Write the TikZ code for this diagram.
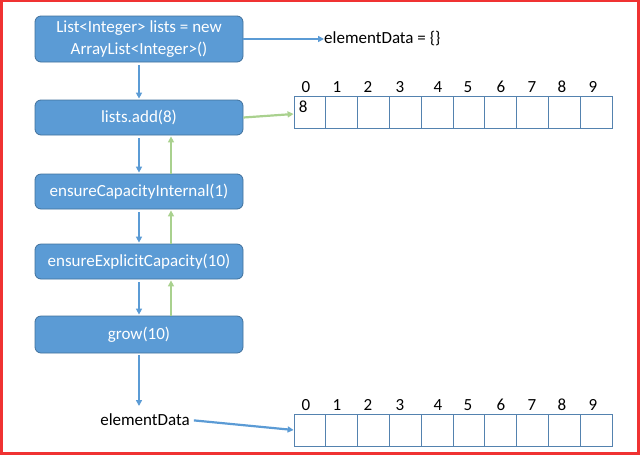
\documentclass[tikz,border=0pt]{standalone}
\usepackage{fontspec}
\setmainfont{Carlito}
\usetikzlibrary{positioning,arrows.meta}

\definecolor{boxblue}{RGB}{91,155,213}
\definecolor{boxedge}{RGB}{65,113,156}
\definecolor{backgreen}{RGB}{169,209,142}
\definecolor{celledge}{RGB}{84,130,175}
\definecolor{frame}{RGB}{240,50,50}

\begin{document}
\begin{tikzpicture}[x=1pt,y=-1pt,
    every node/.style={font=\fontsize{17}{22}\selectfont,inner sep=0pt},
    call/.style={draw=boxedge,fill=boxblue,rounded corners=6pt,
      minimum width=208pt,text=white,align=center,line width=0.8pt},
    cell/.style={draw=celledge,minimum width=31.8pt,minimum height=32pt,line width=0.8pt},
    go/.style={draw=boxblue,line width=2.2pt,-{Triangle[length=6pt,width=6pt]}},
    back/.style={draw=backgreen,line width=2.2pt,-{Triangle[length=6pt,width=6pt]}}
  ]
\useasboundingbox (0,0) rectangle (642,456);
\draw[frame,line width=2.5pt] (1.5,1) rectangle (638.5,453.5);

%% Calls
\node[call,minimum height=46pt] (init) at (139,39) {List<Integer> lists = new\\ArrayList<Integer>()};
\node[call,minimum height=35pt] (add) at (139,117.5) {lists.add(8)};
\node[call,minimum height=35pt] (internal) at (139,191.5) {ensureCapacityInternal(1)};
\node[call,minimum height=35pt] (explicit) at (139,261.5) {ensureExplicitCapacity(10)};
\node[call,minimum height=37pt] (grow) at (139,334.5) {grow(10)};

\node[anchor=west] (empty) at (324,39) {elementData = \{\}};
\node (data) at (145,420) {elementData};
\coordinate (dataend) at (139,406);

%% Arrays
\foreach \i/\lx in {0/306,1/337,2/368,3/400,4/438,5/468,6/501,7/532,8/562,9/593}{
  \node[cell] (top\i) at (294+15.9+31.8*\i,112) {};
  \node[cell] (bot\i) at (294+15.9+31.8*\i,430) {};
  \node (topi\i) at (\lx,87) {\i};
  \node (boti\i) at (\lx,405) {\i};
}
\node[anchor=north west] (eight) at ([shift={(5,5)}]top0.north west) {8};

%% Arrows
\draw[go] (init.east) to (empty.west);
\draw[go,shorten <=3pt,shorten >=1pt] (init.south) to (add.north);
\draw[go,shorten <=3pt,shorten >=1pt] (add.south) to (internal.north);
\draw[go,shorten <=3pt,shorten >=1pt] (internal.south) to (explicit.north);
\draw[go,shorten <=3pt,shorten >=1pt] (explicit.south) to (grow.north);
\draw[go,shorten <=2pt] (grow.south) to (dataend);
\draw[go,shorten <=4pt] (data.east) to (bot0.west);

\draw[back] (add.east) to ([yshift=-2pt]top0.west);
\draw[back,shorten >=1pt] ([xshift=32pt]internal.north) to ([xshift=32pt]add.south);
\draw[back,shorten >=1pt] ([xshift=32pt]explicit.north) to ([xshift=32pt]internal.south);
\draw[back,shorten >=1pt] ([xshift=32pt]grow.north) to ([xshift=32pt]explicit.south);
\end{tikzpicture}
\end{document}
